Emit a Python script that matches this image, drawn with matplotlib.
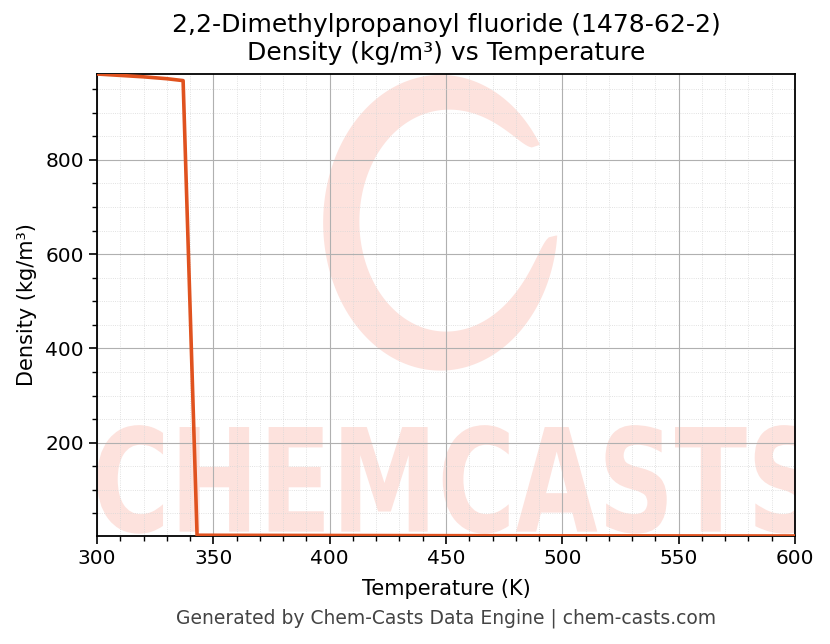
import matplotlib
matplotlib.use("Agg")
import matplotlib.pyplot as plt
import numpy as np
from matplotlib.textpath import TextPath
from matplotlib.patches import PathPatch, Polygon
from matplotlib.font_manager import FontProperties
from matplotlib.ticker import MultipleLocator
import matplotlib.transforms as mtransforms

# data
temperature = [300, 310, 320, 330, 337, 343, 400, 450, 500, 550, 600]
density = [982, 979, 976, 972, 968, 3.7, 3.2, 2.8, 2.5, 2.3, 2.1]

title = "2,2-Dimethylpropanoyl fluoride (1478-62-2)\nDensity (kg/m³) vs Temperature"
xlabel = "Temperature (K)"
ylabel = "Density (kg/m³)"
footer = "Generated by Chem-Casts Data Engine | chem-casts.com"

line_color = "#e0521f"
wm_color = "#fde2dd"

fig = plt.figure(figsize=(8.3, 6.44), dpi=100)
ax = fig.add_axes([0.1169, 0.1677, 0.8409, 0.7174])

# watermark: big word + brush ring, in axes fraction coords
fp = FontProperties(family="DejaVu Sans", weight="bold")
tp = TextPath((0, 0), "CHEMCASTS", prop=fp, size=1)
ext = tp.get_extents()
box = (0.0, 0.005, 1.03, 0.235)  # x0, y0, w, h in axes coords
tr = (mtransforms.Affine2D()
      .translate(-ext.x0, -ext.y0)
      .scale(box[2] / ext.width, box[3] / ext.height)
      .translate(box[0], box[1]))
ax.add_patch(PathPatch(tr.transform_path(tp), facecolor=wm_color,
                       edgecolor="none", transform=ax.transAxes, zorder=0.1,
                       clip_on=True))

cx, cy = 0.492, 0.678
rx, ry = 0.168, 0.32
th = np.linspace(np.radians(32), np.radians(355), 300)
frac = (th - th[0]) / (th[-1] - th[0])
w = 0.30 * np.sin(np.pi * frac) ** 0.35 + 0.01
outer = np.c_[cx + rx * np.cos(th), cy + ry * np.sin(th)]
inner = np.c_[cx + rx * (1 - w) * np.cos(th), cy + ry * (1 - w * 0.95) * np.sin(th)]
ring = np.vstack([outer, inner[::-1]])
ax.add_patch(Polygon(ring, closed=True, facecolor=wm_color, edgecolor="none",
                     transform=ax.transAxes, zorder=0.1))

ax.plot(temperature, density, color=line_color, linewidth=2.6, zorder=3)

ax.set_xlim(300, 600)
ax.set_ylim(min(density), max(density))
ax.xaxis.set_major_locator(MultipleLocator(50))
ax.xaxis.set_minor_locator(MultipleLocator(10))
ax.yaxis.set_major_locator(MultipleLocator(200))
ax.yaxis.set_minor_locator(MultipleLocator(50))
ax.set_axisbelow(True)
ax.grid(which="major", color="#b0b0b0", linewidth=0.8)
ax.grid(which="minor", color="#d8d8d8", linewidth=0.6, linestyle=":")
ax.tick_params(which="major", labelsize=14.5, length=6, width=1.2)
ax.tick_params(which="minor", length=3.5, width=1.0)
for s in ax.spines.values():
    s.set_linewidth(1.3)

ax.set_title(title, fontsize=18, pad=10)
ax.set_xlabel(xlabel, fontsize=15, labelpad=8)
ax.set_ylabel(ylabel, fontsize=15, labelpad=6)
fig.text(0.5375, 0.04, footer, ha="center", va="center", fontsize=13.5, color="#444444")

fig.savefig("out.png", dpi=100)
